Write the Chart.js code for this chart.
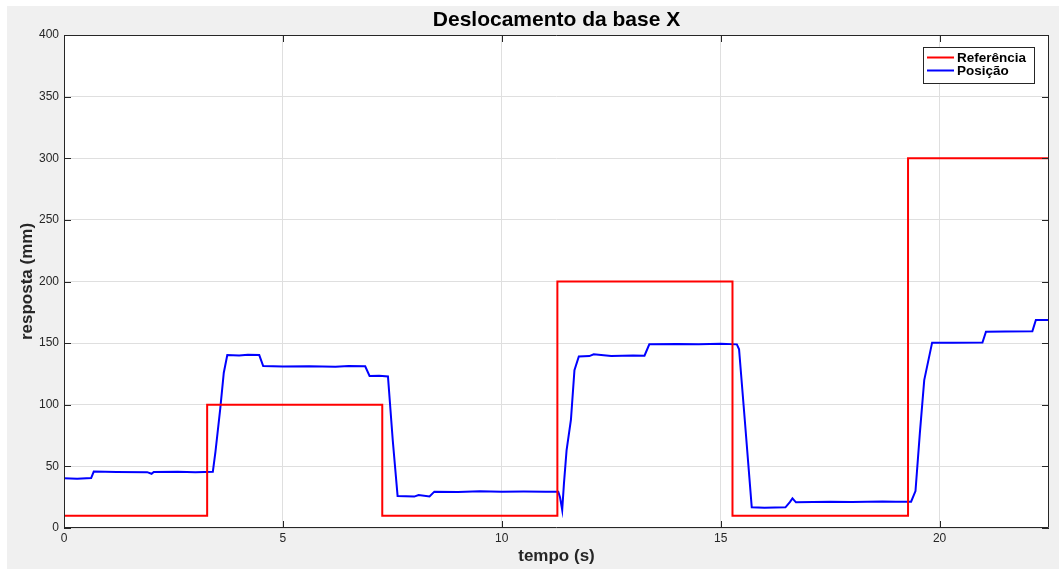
<!DOCTYPE html>
<html>
<head>
<meta charset="utf-8">
<script src="https://cdn.jsdelivr.net/npm/chart.js@4/dist/chart.umd.min.js"></script>
<style>
html,body{margin:0;padding:0;background:#ffffff;}
#wrap{position:absolute;left:0;top:0;width:1059px;height:569px;}
</style>
</head>
<body>
<div id="wrap"><canvas id="c" width="1059" height="569"></canvas></div>
<script>
const chartTitle = "Deslocamento da base X";
const xTitle = "tempo (s)";
const yTitle = "resposta (mm)";
const seriesNames = ["Referência", "Posição"];
const xTicks = [0, 5, 10, 15, 20];
const yTicks = [0, 50, 100, 150, 200, 250, 300, 350, 400];

const refT = [0, 3.27, 3.27, 7.27, 7.27, 11.27, 11.27, 15.27, 15.27, 19.28, 19.28, 22.5];
const refV = [10, 10, 100, 100, 10, 10, 200, 200, 10, 10, 300, 300];

const posT = [0, 0.3, 0.62, 0.68, 1.2, 1.9, 2.0, 2.05, 2.6, 3.0,
  3.40, 3.46, 3.57, 3.65, 3.73, 4.0, 4.2, 4.46, 4.55, 5.0,
  5.6, 6.2, 6.5, 6.88, 6.98, 7.2, 7.40, 7.51, 7.62, 8.0,
  8.1, 8.35, 8.46, 9.0, 9.5, 10.0, 10.5, 11.0, 11.29, 11.33,
  11.38, 11.42, 11.48, 11.58, 11.66, 11.76, 12.0, 12.1, 12.5, 13.0,
  13.26, 13.37, 14.0, 14.5, 15.0, 15.37, 15.42, 15.55, 15.71, 16.0,
  16.48, 16.58, 16.64, 16.72, 17.5, 18.0, 18.7, 19.0, 19.35, 19.45,
  19.55, 19.65, 19.83, 20.3, 20.98, 21.06, 21.5, 22.12, 22.2, 22.5];
const posV = [40.3, 40.0, 40.5, 45.8, 45.5, 45.3, 44.0, 45.5, 45.7, 45.3,
  45.7, 62, 97, 126, 140.4, 140.0, 140.6, 140.3, 131.4, 131.0,
  131.3, 130.9, 131.5, 131.2, 123.3, 123.5, 123.0, 71, 26, 25.5,
  26.8, 25.6, 29.5, 29.3, 29.8, 29.5, 29.6, 29.4, 29.5, 25,
  14.6, 36, 63, 88, 128, 139.2, 139.5, 141, 139.6, 140,
  139.8, 149, 149.3, 149, 149.4, 149, 145, 88, 16.8, 16.5,
  16.8, 21, 24, 20.8, 21.3, 21, 21.5, 21.2, 21.3, 30,
  77, 120, 150.4, 150.3, 150.5, 159.3, 159.4, 159.6, 168.8, 168.8];

const refData = refT.map((t, i) => ({x: t, y: refV[i]}));
const posData = posT.map((t, i) => ({x: t, y: posV[i]}));

const FONT = "'Liberation Sans', Arial, Helvetica, sans-serif";
const AXC = "#262626";

const framePlugin = {
  id: 'frame',
  beforeDraw(chart) {
    const ctx = chart.ctx;
    ctx.save();
    ctx.fillStyle = '#ffffff';
    ctx.fillRect(0, 0, chart.width, chart.height);
    ctx.fillStyle = '#f0f0f0';
    ctx.fillRect(7, 6, chart.width - 7, chart.height - 6);
    const a = chart.chartArea;
    ctx.fillStyle = '#ffffff';
    ctx.fillRect(a.left, a.top, a.right - a.left, a.bottom - a.top);
    ctx.restore();
  },
  afterDraw(chart) {
    const ctx = chart.ctx;
    const a = chart.chartArea;
    const xs = chart.scales.x, ys = chart.scales.y;
    ctx.save();
    ctx.strokeStyle = AXC;
    ctx.lineWidth = 1;
    ctx.beginPath();
    ctx.rect(Math.round(a.left) + 0.5, Math.round(a.top) + 0.5, Math.round(a.right - a.left) - 1, Math.round(a.bottom - a.top) - 1);
    ctx.stroke();
    const tl = 7;
    ctx.beginPath();
    xTicks.forEach(v => {
      const px = Math.round(xs.getPixelForValue(v)) + 0.5;
      ctx.moveTo(px, a.bottom); ctx.lineTo(px, a.bottom - tl);
      ctx.moveTo(px, a.top); ctx.lineTo(px, a.top + tl);
    });
    yTicks.forEach(v => {
      const py = Math.round(ys.getPixelForValue(v)) + 0.5;
      ctx.moveTo(a.left, py); ctx.lineTo(a.left + tl, py);
      ctx.moveTo(a.right, py); ctx.lineTo(a.right - tl, py);
    });
    ctx.stroke();
    // title
    ctx.fillStyle = '#000000';
    ctx.font = "bold 21px " + FONT;
    ctx.textAlign = 'center';
    ctx.textBaseline = 'middle';
    ctx.fillText(chartTitle, (a.left + a.right) / 2, 20);
    // y title
    ctx.fillStyle = AXC;
    ctx.font = "bold 17px " + FONT;
    ctx.save();
    ctx.translate(27, (a.top + a.bottom) / 2);
    ctx.rotate(-Math.PI / 2);
    ctx.fillText(yTitle, 0, 0);
    ctx.restore();
    // x title
    ctx.fillText(xTitle, (a.left + a.right) / 2, 556);
    // legend
    const lx = 923, ly = 47, lw = 111, lh = 36;
    ctx.fillStyle = '#ffffff';
    ctx.fillRect(lx, ly, lw, lh);
    ctx.strokeStyle = AXC;
    ctx.lineWidth = 1;
    ctx.strokeRect(lx + 0.5, ly + 0.5, lw, lh);
    const cols = ['#ff0000', '#0000ff'];
    const rows = [57.5, 70.5];
    ctx.font = "bold 13.5px " + FONT;
    ctx.textAlign = 'left';
    for (let i = 0; i < 2; i++) {
      ctx.strokeStyle = cols[i];
      ctx.lineWidth = 2;
      ctx.beginPath();
      ctx.moveTo(927, rows[i]); ctx.lineTo(954, rows[i]);
      ctx.stroke();
      ctx.fillStyle = '#000000';
      ctx.fillText(seriesNames[i], 957, rows[i] + 0.5);
    }
    ctx.restore();
  }
};

new Chart(document.getElementById('c'), {
  type: 'line',
  data: {
    datasets: [
      {label: seriesNames[0], data: refData, borderColor: '#ff0000', borderWidth: 2, pointRadius: 0, tension: 0, fill: false},
      {label: seriesNames[1], data: posData, borderColor: '#0000ff', borderWidth: 2, pointRadius: 0, tension: 0, fill: false}
    ]
  },
  options: {
    responsive: false,
    animation: false,
    devicePixelRatio: 1,
    layout: {padding: {left: 0, right: 10, top: 35, bottom: 0}},
    plugins: {legend: {display: false}, tooltip: {enabled: false}, title: {display: false}},
    scales: {
      x: {
        type: 'linear', min: 0, max: 22.5,
        afterBuildTicks(s) { s.ticks = xTicks.map(v => ({value: v})); },
        afterFit(s) { s.height = 41; },
        grid: {color: '#dfdfdf', drawTicks: false, lineWidth: 1},
        border: {display: false},
        ticks: {color: AXC, font: {family: FONT, size: 12}, padding: 3, maxRotation: 0},
        title: {display: false}
      },
      y: {
        type: 'linear', min: 0, max: 400,
        afterBuildTicks(s) { s.ticks = yTicks.map(v => ({value: v})); },
        afterFit(s) { s.width = 64; },
        grid: {color: '#dfdfdf', drawTicks: false, lineWidth: 1},
        border: {display: false},
        ticks: {color: AXC, font: {family: FONT, size: 12}, padding: 5},
        title: {display: false}
      }
    }
  },
  plugins: [framePlugin]
});
</script>
</body>
</html>
